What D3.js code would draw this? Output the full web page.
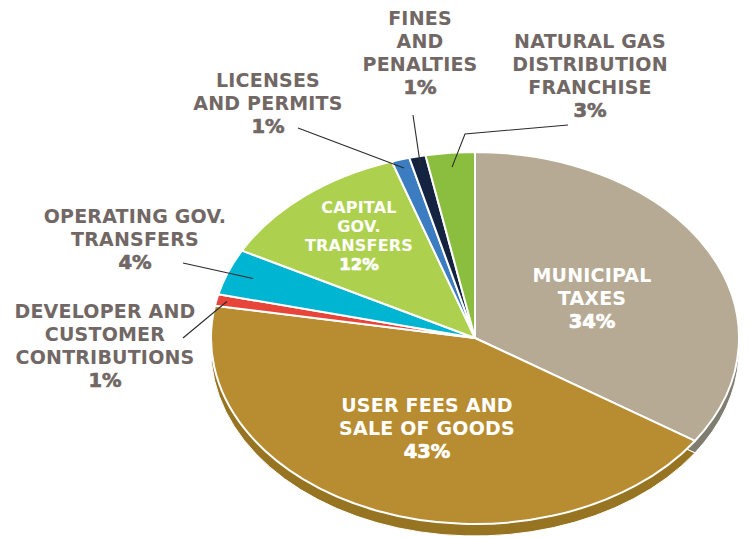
<!DOCTYPE html>
<html><head><meta charset="utf-8">
<script src="https://cdn.jsdelivr.net/npm/d3@7"></script>
<style>html,body{margin:0;padding:0;background:#fff;}svg{display:block;}</style>
</head><body>
<svg id="chart" width="749" height="538"></svg>
<script>
const categories = ["Municipal Taxes","User Fees and Sale of Goods","Developer and Customer Contributions","Operating Gov. Transfers","Capital Gov. Transfers","Licenses and Permits","Fines and Penalties","Natural Gas Distribution Franchise"];
const values = [34.3, 43.4, 1.0, 4.0, 12.1, 1.1, 1.0, 3.0];
const percentLabels = ["34%","43%","1%","4%","12%","1%","1%","3%"];
const labelLines = [
  ["MUNICIPAL","TAXES"],
  ["USER FEES AND","SALE OF GOODS"],
  ["DEVELOPER AND","CUSTOMER","CONTRIBUTIONS"],
  ["OPERATING GOV.","TRANSFERS"],
  ["CAPITAL","GOV.","TRANSFERS"],
  ["LICENSES","AND PERMITS"],
  ["FINES","AND","PENALTIES"],
  ["NATURAL GAS","DISTRIBUTION","FRANCHISE"]
];
const topColors  = ["#b6aa95","#b88c30","#e8453a","#00b5d2","#add14f","#3c7cc0","#14233f","#8bbd3e"];
const sideColors = ["#7f7d70","#967421","#b0352c","#008a9f","#86a23b","#2d5d90","#0d1829","#6b9130"];

// layout (not data)
const cx = 475, cy = 338, rx = 264, ry = 186, depth = 12;
const labelLayout = [
  {x:592, y:282, inside:true, size:19, lh:23},
  {x:427, y:412, inside:true, size:19, lh:23},
  {x:105, y:318, inside:false, size:19, lh:23, lineFrom:[183,338], r:0.96},
  {x:135, y:223, inside:false, size:19, lh:23, lineFrom:[183,263], r:0.90},
  {x:359, y:213, inside:true, size:16, lh:19},
  {x:268, y:87,  inside:false, size:19, lh:23, lineFrom:[298,128], r:0.953},
  {x:420, y:25,  inside:false, size:19, lh:23, lineFrom:[413,115], r:0.943},
  {x:590, y:48,  inside:false, size:19, lh:23, lineFrom:[568,125], elbow:[465,134], r:0.923}
];

const svg = d3.select("#chart");
const pie = d3.pie().sort(null).value(d => d)(values);
const arc = d3.arc().innerRadius(0).outerRadius(rx);
const sy = ry / rx;

// side (bottom layer, shifted down)
svg.append("g").attr("transform", `translate(${cx},${cy + depth}) scale(1,${sy})`)
  .selectAll("path").data(pie).join("path")
  .attr("d", arc).attr("fill", (d,i) => sideColors[i])
  .attr("stroke", "#fff").attr("stroke-width", 1).attr("vector-effect","non-scaling-stroke");

// top face
svg.append("g").attr("transform", `translate(${cx},${cy}) scale(1,${sy})`)
  .selectAll("path").data(pie).join("path")
  .attr("d", arc).attr("fill", (d,i) => topColors[i])
  .attr("stroke", "#fff").attr("stroke-width", 2).attr("stroke-linejoin","round")
  .attr("vector-effect","non-scaling-stroke");

// leader lines
const lineG = svg.append("g");
pie.forEach((d,i) => {
  const L = labelLayout[i];
  if (!L.lineFrom) return;
  const a = (d.startAngle + d.endAngle) / 2;
  const ex = cx + rx * L.r * Math.sin(a), ey = cy - ry * L.r * Math.cos(a);
  const pts = [L.lineFrom];
  if (L.elbow) pts.push(L.elbow);
  pts.push([ex, ey]);
  lineG.append("path").attr("d", d3.line()(pts))
    .attr("fill","none").attr("stroke","#2b2b2b").attr("stroke-width",1.1);
});

// labels
const textColor = "#716866";
const font = "'DejaVu Sans', sans-serif";
labelLayout.forEach((L,i) => {
  const col = L.inside ? "#fff" : textColor;
  const t = svg.append("text").attr("text-anchor","middle")
    .attr("font-family", font).attr("font-size", L.size)
    .attr("fill", col);
  labelLines[i].forEach((s,k) => {
    t.append("tspan").attr("x", L.x).attr("y", L.y + k*L.lh)
      .attr("font-weight", 600).attr("letter-spacing", 0.2).text(s);
  });
  t.append("tspan").attr("x", L.x).attr("y", L.y + labelLines[i].length*L.lh)
    .attr("font-weight", 800).attr("stroke", col).attr("stroke-width", 0.7)
    .attr("font-size", L.size + 0.5).text(percentLabels[i]);
});
</script>
</body></html>
